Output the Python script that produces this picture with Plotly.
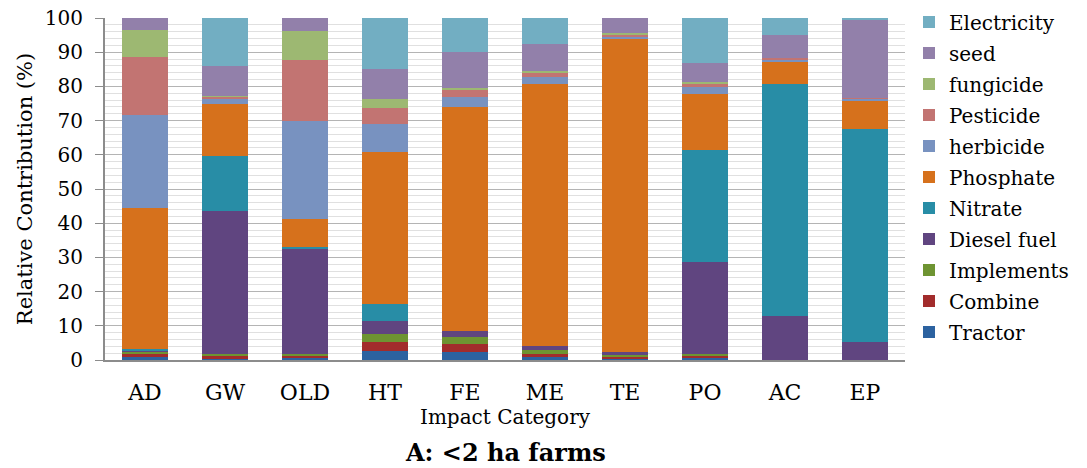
import plotly.graph_objects as go

categories = ["AD", "GW", "OLD", "HT", "FE", "ME", "TE", "PO", "AC", "EP"]

# Contribution (%) of each input to each impact category, stacked bottom to top
tractor     = [0.8, 0.3, 0.5, 2.6, 2.3, 0.9, 0.4, 0.5, 0.0, 0.0]
combine     = [0.9, 1.0, 0.8, 2.8, 2.4, 1.0, 0.5, 0.8, 0.0, 0.0]
implements  = [0.7, 0.5, 0.6, 2.2, 2.0, 1.0, 0.5, 0.6, 0.0, 0.0]
diesel_fuel = [0.4, 41.7, 30.5, 3.7, 1.8, 1.2, 1.0, 26.8, 13.0, 5.4]
nitrate     = [0.3, 16.1, 0.6, 5.0, 0.0, 0.0, 0.0, 32.8, 67.7, 62.0]
phosphate   = [41.3, 15.2, 8.3, 44.6, 65.6, 76.5, 91.7, 16.4, 6.6, 8.5]
herbicide   = [27.2, 1.6, 28.7, 8.0, 2.8, 2.1, 0.5, 1.8, 0.5, 0.5]
pesticide   = [16.9, 0.6, 17.7, 4.9, 2.1, 1.4, 0.5, 1.2, 0.5, 0.3]
fungicide   = [8.1, 0.3, 8.4, 2.4, 0.6, 0.5, 0.5, 0.5, 0.0, 0.0]
seed        = [3.4, 8.8, 3.9, 9.0, 10.4, 7.9, 4.4, 5.4, 6.8, 23.0]
electricity = [0.0, 13.9, 0.0, 14.8, 10.0, 7.5, 0.0, 13.2, 4.9, 0.3]

series = [
    ("Tractor", tractor, "#2C62A0"),
    ("Combine", combine, "#A22C2C"),
    ("Implements", implements, "#6E9432"),
    ("Diesel fuel", diesel_fuel, "#604580"),
    ("Nitrate", nitrate, "#288DA6"),
    ("Phosphate", phosphate, "#D6711C"),
    ("herbicide", herbicide, "#7892C0"),
    ("Pesticide", pesticide, "#C27472"),
    ("fungicide", fungicide, "#9DB872"),
    ("seed", seed, "#9280AA"),
    ("Electricity", electricity, "#72AEC2"),
]

serif = "DejaVu Serif"

fig = go.Figure()
for i, (name, vals, color) in enumerate(series):
    # top of the stack is listed first in the legend
    fig.add_trace(go.Bar(
        x=categories, y=vals, name=name, legendgroup=name,
        legendrank=len(series) - i,
        marker=dict(color=color, line=dict(width=0)),
    ))

fig.update_layout(
    width=1087, height=468,
    margin=dict(l=105, r=182, t=18, b=108, autoexpand=False),
    barmode="stack", bargap=0.42,
    plot_bgcolor="white", paper_bgcolor="white",
    font=dict(family=serif, color="black", size=20),
    legend=dict(
        traceorder="grouped",
        x=1.005, xanchor="left", y=1.045, yanchor="top",
        font=dict(family=serif, size=20, color="black"),
        itemwidth=30, tracegroupgap=2, maxheight=1,
    ),
    xaxis=dict(
        showline=True, linecolor="#8c8c8c", linewidth=2,
        ticks="", tickfont=dict(family=serif, size=22),
        ticklabelstandoff=12,
        title=dict(text="Impact Category", font=dict(family=serif, size=20), standoff=5),
    ),
    yaxis=dict(
        range=[0, 100], dtick=10,
        showline=True, linecolor="#8c8c8c", linewidth=2,
        ticks="outside", ticklen=8, tickcolor="#8c8c8c",
        ticklabelstandoff=8,
        showgrid=True, gridcolor="#b4b4b4", gridwidth=1,
        minor=dict(dtick=2, showgrid=True, gridcolor="#e0e0e0", gridwidth=1),
        tickfont=dict(family=serif, size=20),
        title=dict(text="Relative Contribution (%)", font=dict(family=serif, size=21), standoff=6),
        zeroline=False,
    ),
    annotations=[dict(
        text="<b>A: <2 ha farms</b>", xref="paper", yref="paper",
        x=0.5, y=-0.27, xanchor="center", yanchor="middle",
        showarrow=False, font=dict(family=serif, size=24, color="black"),
    )],
)

fig.write_html("out.html")
